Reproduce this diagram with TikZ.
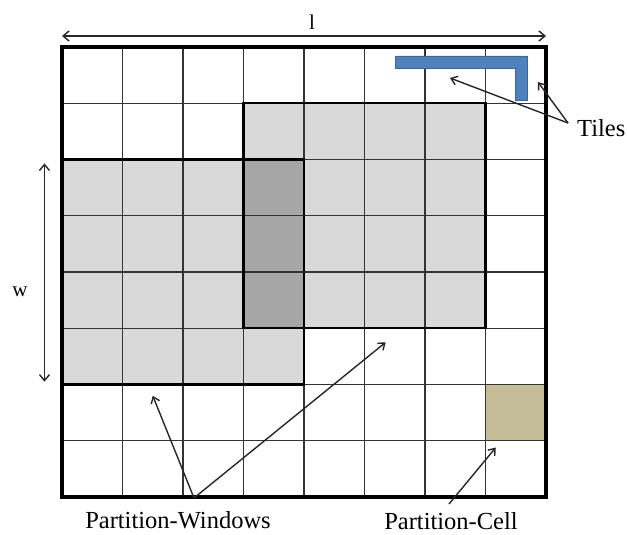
\documentclass[tikz,border=0pt]{standalone}
\usepackage{fontspec}
\setmainfont{Liberation Serif}
\usetikzlibrary{arrows.meta}
\definecolor{winfill}{HTML}{D9D9D9}
\definecolor{overlapfill}{HTML}{A6A6A6}
\definecolor{cellfill}{HTML}{C4BD97}
\definecolor{tilefill}{HTML}{4F81BD}
\definecolor{tileedge}{HTML}{3A679C}
\tikzset{
  gridline/.style={draw=black!80, line width=1.15pt},
  winedge/.style={draw=black, line width=2.2pt},
  outeredge/.style={draw=black, line width=3.2pt},
  pointer/.style={draw=black!85, line width=1.4pt, -{Straight Barb[length=6pt,width=9pt]}},
  dimline/.style={draw=black!85, line width=1.4pt, {Straight Barb[length=6pt,width=10pt]}-{Straight Barb[length=6pt,width=10pt]}},
  caption/.style={font=\fontsize{24.5}{27}\selectfont, inner sep=0pt},
  dimlabel/.style={font=\fontsize{21}{23}\selectfont, inner sep=0pt}
}
\begin{document}
\begin{tikzpicture}[x=1pt, y=-1pt]
\useasboundingbox (0,0) rectangle (627,535);

% grid of 8 x 8 cells
\begin{scope}[shift={(62,47)}, x=60.5pt, y=-56.25pt]
  \fill[winfill] (0,2) rectangle (4,6);
  \fill[winfill] (3,1) rectangle (7,5);
  \fill[overlapfill] (3,2) rectangle (4,5);
  \fill[cellfill] (7,6) rectangle (8,7);
  \foreach \k in {1,...,7} {
    \draw[gridline] (\k,0) -- (\k,8);
    \draw[gridline] (0,\k) -- (8,\k);
  }
  \draw[winedge] (0,2) rectangle (4,6);
  \draw[winedge] (3,1) rectangle (7,5);
  \draw[winedge] (3,2) rectangle (4,5);
  \draw[outeredge] (0,0) rectangle (8,8);
  \coordinate (wTop) at (-0.29,2.07);
  \coordinate (wBot) at (-0.29,5.95);
  \coordinate (winA) at (1.5,6.2);
  \coordinate (winB) at (5.35,5.25);
  \coordinate (cellPt) at (7.17,7.12);
\end{scope}

% L-shaped tile
\draw[tileedge, fill=tilefill, line width=0.9pt]
  (395,56) -- (527,56) -- (527,100) -- (515,100) -- (515,68) -- (395,68) -- cycle;
\coordinate (tileA) at (450,78);
\coordinate (tileB) at (538,82);

% dimensions
\coordinate (lLeft) at (62,36);
\coordinate (lRight) at (546,36);
\draw[dimline] (lLeft) -- (lRight);
\node[dimlabel] (lLabel) at (312,22) {l};
\draw[dimline] (wTop) -- (wBot);
\node[dimlabel] (wLabel) at (20,292) {w};

% labels and pointers
\node[caption, anchor=west] (tiles) at (577,128) {Tiles};
\coordinate (tilesFork) at (568,123);
\draw[pointer] (tilesFork) -- (tileA);
\draw[pointer] (tilesFork) -- (tileB);

\node[caption] (windows) at (178,520) {Partition-Windows};
\coordinate (winFork) at (194,498);
\draw[pointer] (winFork) -- (winA);
\draw[pointer] (winFork) -- (winB);

\node[caption] (cell) at (451,521) {Partition-Cell};
\coordinate (cellFork) at (449,504);
\draw[pointer] (cellFork) -- (cellPt);
\end{tikzpicture}
\end{document}
